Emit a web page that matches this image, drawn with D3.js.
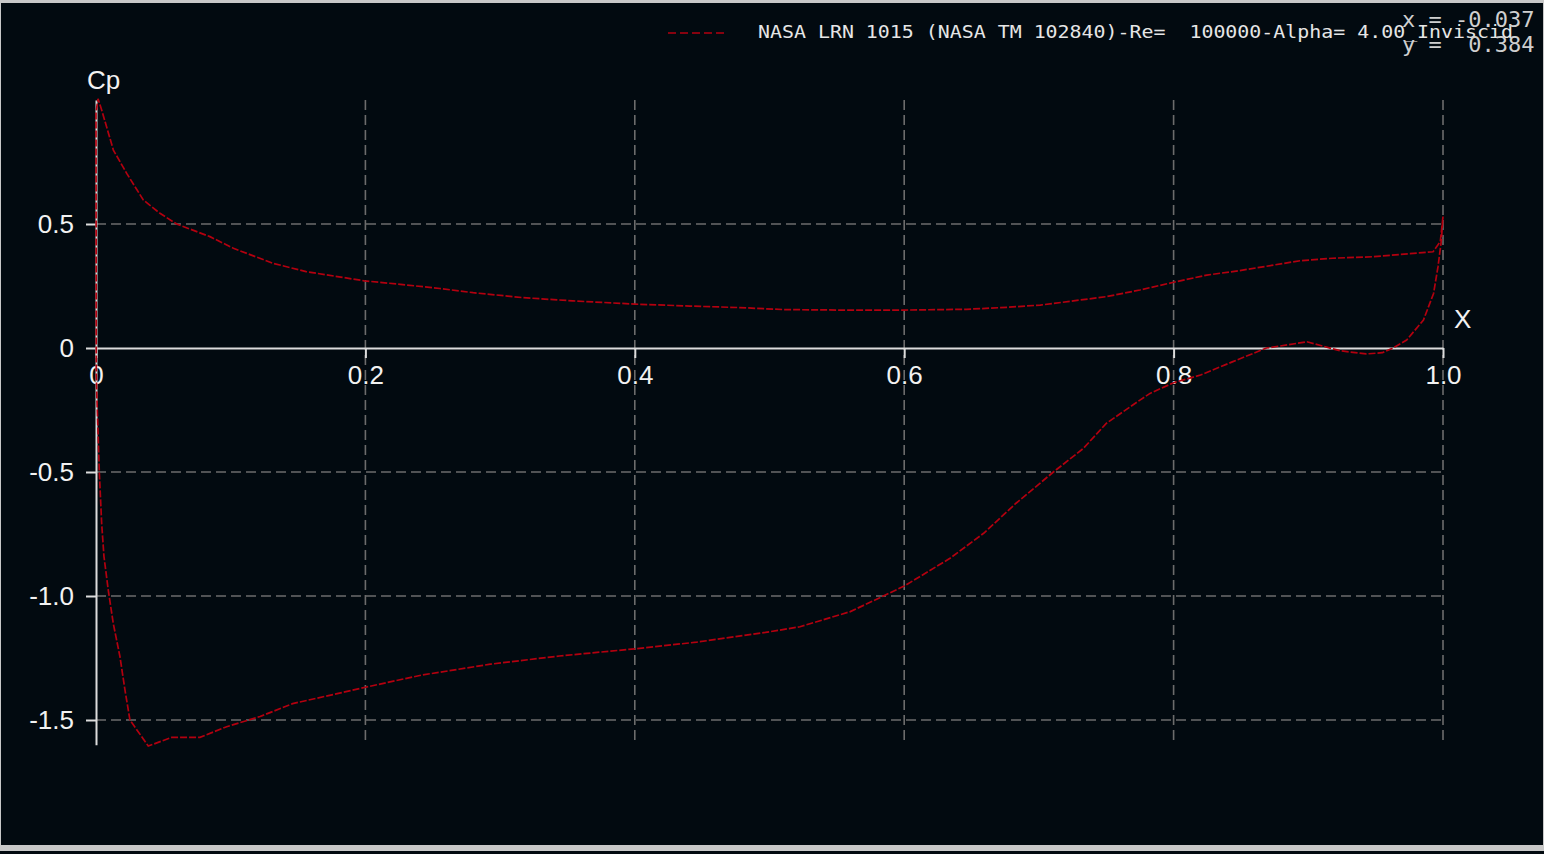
<!DOCTYPE html>
<html lang="en">
	<head>
		<meta charset="utf-8">
		<title>Cp vs X</title>
		<script src="https://d3js.org/d3.v7.min.js"></script>
		<style type="text/css">
			body { margin: 0; background: #c8c8c8; }
			svg { display: block; }
			text { white-space: pre; }
		</style>
	</head>
	<body>
		<script type="text/javascript">

			//Width and height
			var w = 1544;
			var h = 854;

			// pressure side (positive Cp), leading edge -> trailing edge
			var pressureX  = [0.0015, 0.0042, 0.0129, 0.0228, 0.0351, 0.0475, 0.0599, 0.0846, 0.102, 0.1317,
							  0.156, 0.199, 0.2307, 0.2554, 0.28, 0.317, 0.354, 0.4, 0.441, 0.478,
							  0.51, 0.552, 0.6, 0.646, 0.676, 0.701, 0.7256, 0.75, 0.775, 0.8,
							  0.8246, 0.849, 0.894, 0.918, 0.948, 0.9926, 0.998, 1.0];
			var pressureCp = [1.005, 0.96, 0.798, 0.704, 0.597, 0.543, 0.5, 0.449, 0.402, 0.341,
							  0.308, 0.271, 0.254, 0.24, 0.223, 0.203, 0.19, 0.177, 0.169, 0.163,
							  0.155, 0.153, 0.153, 0.156, 0.164, 0.173, 0.19, 0.207, 0.234, 0.265,
							  0.294, 0.312, 0.352, 0.362, 0.368, 0.388, 0.429, 0.53];

			// nose points, straight down the leading edge
			var noseX  = [0.0, 0.0002];
			var noseCp = [0.95, -0.1];

			// suction side (negative Cp), leading edge -> trailing edge
			var suctionX  = [0.0005, 0.0025, 0.0042, 0.0059, 0.0091, 0.0128, 0.0178, 0.0215, 0.0252, 0.0388,
							 0.0562, 0.0772, 0.097, 0.1218, 0.146, 0.2, 0.2416, 0.2927, 0.344, 0.4,
							 0.446, 0.497, 0.5226, 0.56, 0.5845, 0.6, 0.634, 0.659, 0.683, 0.711,
							 0.733, 0.75, 0.775, 0.7825, 0.8, 0.82, 0.844, 0.869, 0.879, 0.899,
							 0.9235, 0.943, 0.955, 0.963, 0.973, 0.9855, 0.993, 0.9963, 0.9988, 1.0];
			var suctionCp = [-0.17, -0.505, -0.707, -0.84, -0.976, -1.11, -1.245, -1.379, -1.5, -1.605,
							 -1.57, -1.57, -1.527, -1.486, -1.434, -1.368, -1.319, -1.275, -1.242, -1.213,
							 -1.186, -1.147, -1.124, -1.063, -1.0, -0.96, -0.848, -0.747, -0.626, -0.499,
							 -0.405, -0.304, -0.21, -0.183, -0.14, -0.109, -0.055, 0, 0.008, 0.025,
							 -0.011, -0.024, -0.019, 0, 0.032, 0.113, 0.22, 0.328, 0.435, 0.53];

			var xTicks = [0, 0.2, 0.4, 0.6, 0.8, 1.0];
			var xTickLabels = ["0", "0.2", "0.4", "0.6", "0.8", "1.0"];
			var yTicks = [0.5, 0, -0.5, -1.0, -1.5];
			var yTickLabels = ["0.5", "0", "-0.5", "-1.0", "-1.5"];

			var legendText = "NASA LRN 1015 (NASA TM 102840)-Re=  100000-Alpha= 4.00_Inviscid";
			var cursorText = ["x = -0.037", "y =  0.384"];

			var red = "#b3000f";
			var bg = "#020a10";
			var labelFont = "'Liberation Sans', Arial, sans-serif";
			var monoFont = "'DejaVu Sans Mono', 'Liberation Mono', monospace";

			// one polyline: TE along the pressure side to the LE, down the nose, then suction side to TE
			var points = [];
			for (var i = pressureX.length - 1; i >= 0; i--) {
				points.push([pressureX[i], pressureCp[i]]);
			}
			for (var i = 0; i < noseX.length; i++) {
				points.push([noseX[i], noseCp[i]]);
			}
			for (var i = 0; i < suctionX.length; i++) {
				points.push([suctionX[i], suctionCp[i]]);
			}

			//Create SVG element
			var svg = d3.select("body")
						.append("svg")
						.attr("width", w)
						.attr("height", h);

			// frame
			svg.append("rect").attr("x", 0).attr("y", 0).attr("width", w).attr("height", h).attr("fill", "#c8c8c8");
			svg.append("rect").attr("x", 1).attr("y", 3).attr("width", 1542).attr("height", 842).attr("fill", bg);
			svg.append("rect").attr("x", 0).attr("y", 851).attr("width", w).attr("height", 3).attr("fill", bg);

			var x = d3.scaleLinear().domain([0, 1]).range([96, 1443]);
			var y = d3.scaleLinear().domain([-1.6, 1.0]).range([744.8, 100]);

			// grid
			svg.selectAll("line.hgrid")
			   .data(yTicks.filter(function(d) { return d !== 0; }))
			   .enter()
			   .append("line")
			   .attr("class", "hgrid")
			   .attr("x1", x(0))
			   .attr("x2", x(1))
			   .attr("y1", function(d) { return y(d); })
			   .attr("y2", function(d) { return y(d); })
			   .attr("stroke", "#6c6c6c")
			   .attr("stroke-width", 1.6)
			   .attr("stroke-dasharray", "10,5");

			svg.selectAll("line.vgrid")
			   .data(xTicks.filter(function(d) { return d !== 0; }))
			   .enter()
			   .append("line")
			   .attr("class", "vgrid")
			   .attr("x1", function(d) { return x(d); })
			   .attr("x2", function(d) { return x(d); })
			   .attr("y1", y(1.0))
			   .attr("y2", y(-1.6))
			   .attr("stroke", "#6c6c6c")
			   .attr("stroke-width", 1.6)
			   .attr("stroke-dasharray", "10,5");

			// axes
			var xAxis = d3.axisBottom(x)
						  .tickValues(xTicks)
						  .tickFormat(function(d, i) { return xTickLabels[i]; })
						  .tickSize(10)
						  .tickSizeOuter(0)
						  .tickPadding(8);
			var yAxis = d3.axisLeft(y)
						  .tickValues(yTicks)
						  .tickFormat(function(d, i) { return yTickLabels[i]; })
						  .tickSize(10)
						  .tickSizeOuter(0)
						  .tickPadding(12);

			var gx = svg.append("g")
						.attr("transform", "translate(0," + y(0) + ")")
						.call(xAxis);
			var gy = svg.append("g")
						.attr("transform", "translate(" + x(0) + ",0)")
						.call(yAxis);

			[gx, gy].forEach(function(g) {
				g.select(".domain").attr("stroke", "#dcdcdc").attr("stroke-width", 2);
				g.selectAll(".tick line").attr("stroke", "#dcdcdc").attr("stroke-width", 2);
				g.selectAll(".tick text")
				 .attr("fill", "#f2f2f2")
				 .attr("font-family", labelFont)
				 .attr("font-size", "26px");
			});

			svg.append("text")
			   .text("Cp")
			   .attr("x", 87)
			   .attr("y", 89)
			   .attr("font-family", labelFont)
			   .attr("font-size", "26px")
			   .attr("fill", "#f2f2f2");

			svg.append("text")
			   .text("X")
			   .attr("x", 1454)
			   .attr("y", 328)
			   .attr("font-family", labelFont)
			   .attr("font-size", "26px")
			   .attr("fill", "#f2f2f2");

			// curve
			var line = d3.line()
						 .x(function(d) { return x(d[0]); })
						 .y(function(d) { return y(d[1]); });

			svg.append("path")
			   .datum(points)
			   .attr("d", line)
			   .attr("fill", "none")
			   .attr("stroke", red)
			   .attr("stroke-width", 1.7)
			   .attr("stroke-dasharray", "7,2");

			// legend
			svg.append("line")
			   .attr("x1", 668)
			   .attr("x2", 725)
			   .attr("y1", 33)
			   .attr("y2", 33)
			   .attr("stroke", red)
			   .attr("stroke-width", 1.7)
			   .attr("stroke-dasharray", "8,4");

			svg.append("text")
			   .text(legendText)
			   .attr("x", 758)
			   .attr("y", 38)
			   .attr("font-family", monoFont)
			   .attr("font-size", "18px")
			   .attr("textLength", 755)
			   .attr("lengthAdjust", "spacingAndGlyphs")
			   .attr("fill", "#e6e6e6");

			// cursor readout
			svg.selectAll("text.cursor")
			   .data(cursorText)
			   .enter()
			   .append("text")
			   .attr("class", "cursor")
			   .text(function(d) { return d; })
			   .attr("x", 1402)
			   .attr("y", function(d, i) { return 27 + i * 25; })
			   .attr("font-family", monoFont)
			   .attr("font-size", "22px")
			   .attr("fill", "#cfcfcf");

		</script>
	</body>
</html>
